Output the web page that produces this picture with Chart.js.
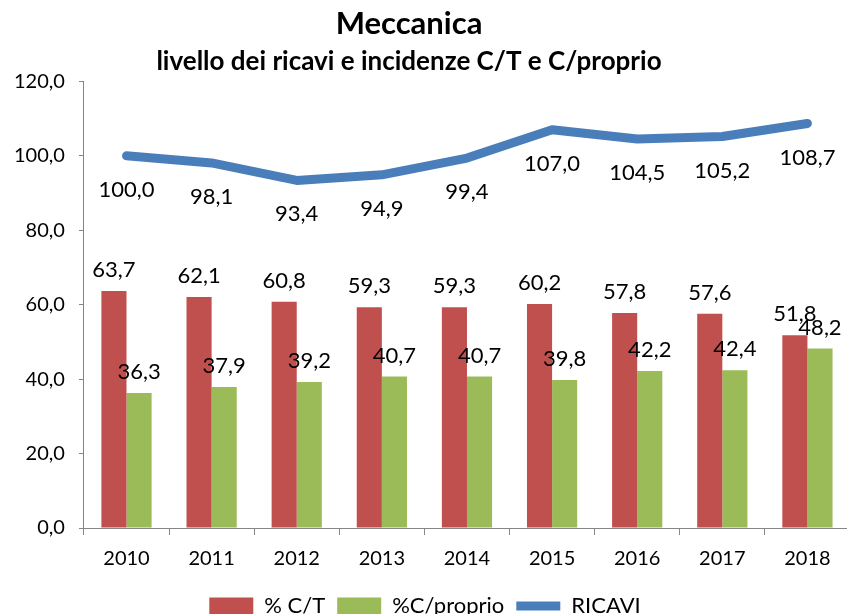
<!DOCTYPE html>
<html>
<head>
<meta charset="utf-8">
<script src="https://cdn.jsdelivr.net/npm/chart.js@4/dist/chart.umd.min.js"></script>
<style>
  html, body { margin: 0; padding: 0; background: #fff; overflow: hidden; }
  #wrap { width: 847px; height: 614px; overflow: hidden; position: relative; }
  #box { width: 850px; height: 627px; position: absolute; left: 0; top: 0; }
</style>
</head>
<body>
<div id="wrap"><div id="box"><canvas id="Chart"></canvas></div></div>
<script>
'use strict';
// dati
const anni = ['2010', '2011', '2012', '2013', '2014', '2015', '2016', '2017', '2018'];
const percCT = [63.7, 62.1, 60.8, 59.3, 59.3, 60.2, 57.8, 57.6, 51.8];
const percProprio = [36.3, 37.9, 39.2, 40.7, 40.7, 39.8, 42.2, 42.4, 48.2];
const ricavi = [100.0, 98.1, 93.4, 94.9, 99.4, 107.0, 104.5, 105.2, 108.7];

const FONT = 'Lato, "Open Sans", sans-serif';

// formato italiano con virgola
function fmt(v) {
    return v.toFixed(1).replace('.', ',');
}

// plugin per le etichette dei valori
const etichette = {
    id: 'etichette',
    afterDatasetsDraw(chart) {
        const ctx = chart.ctx;
        ctx.save();
        ctx.font = '22px ' + FONT;
        ctx.fillStyle = '#000';
        ctx.textAlign = 'center';
        ctx.textBaseline = 'middle';
        chart.data.datasets.forEach((ds, i) => {
            const meta = chart.getDatasetMeta(i);
            meta.data.forEach((el, j) => {
                const off = ds.type === 'line' ? 34 : -21;
                ctx.fillText(fmt(ds.data[j]), el.x, el.y + off);
            });
        });
        ctx.restore();
    }
};

// il titolo nell'originale è un po' spostato a sinistra
const spostaTitolo = {
    id: 'spostaTitolo',
    afterLayout(chart) {
        chart.boxes.forEach(b => {
            if (b.options && typeof b.options.text === 'string' && b.position === 'top') {
                b.right -= 32;
            }
        });
    }
};

const ctx = document.getElementById('Chart').getContext('2d');
new Chart(ctx, {
    type: 'bar',
    data: {
        labels: anni,
        datasets: [
            { type: 'line', label: 'RICAVI', data: ricavi, borderColor: '#4a7ebb', backgroundColor: '#4a7ebb',
              borderWidth: 9, pointRadius: 0, pointStyle: 'line', borderCapStyle: 'round', borderJoinStyle: 'round',
              tension: 0, order: 0 },
            { label: '% C/T', data: percCT, backgroundColor: '#c0504d', pointStyle: 'rect', order: 1,
              categoryPercentage: 0.59, barPercentage: 1 },
            { label: '%C/proprio', data: percProprio, backgroundColor: '#9bbb59', pointStyle: 'rect', order: 1,
              categoryPercentage: 0.59, barPercentage: 1 }
        ]
    },
    options: {
        responsive: true,
        maintainAspectRatio: false,
        animation: false,
        layout: { padding: { left: 0, right: 0, top: 0, bottom: 0 } },
        plugins: {
            title: { display: true, text: 'Meccanica', color: '#000',
                     font: { family: FONT, size: 31, weight: 'bold' }, padding: { top: 5, bottom: 0 } },
            subtitle: { display: true, text: 'livello dei ricavi e incidenze C/T e C/proprio', color: '#000',
                        font: { family: FONT, size: 26, weight: 'bold' }, padding: { top: 4, bottom: 4 } },
            legend: {
                position: 'bottom',
                labels: {
                    color: '#000', font: { family: FONT, size: 22 },
                    usePointStyle: true, pointStyleWidth: 44, boxHeight: 17, padding: 12,
                    sort: (a, b) => a.datasetIndex === 0 ? 1 : (b.datasetIndex === 0 ? -1 : a.datasetIndex - b.datasetIndex)
                }
            },
            tooltip: { enabled: false }
        },
        scales: {
            x: {
                grid: { drawOnChartArea: false, color: '#868686', tickLength: 7 },
                border: { color: '#868686' },
                ticks: { color: '#000', font: { family: FONT, size: 20 }, padding: 12 }
            },
            y: {
                min: 0, max: 120,
                grid: { drawOnChartArea: false, color: '#868686', tickLength: 5 },
                border: { color: '#868686' },
                ticks: { stepSize: 20, color: '#000', font: { family: FONT, size: 20 }, padding: 14,
                         callback: v => fmt(v) }
            }
        }
    },
    plugins: [etichette, spostaTitolo]
});
</script>
</body>
</html>
